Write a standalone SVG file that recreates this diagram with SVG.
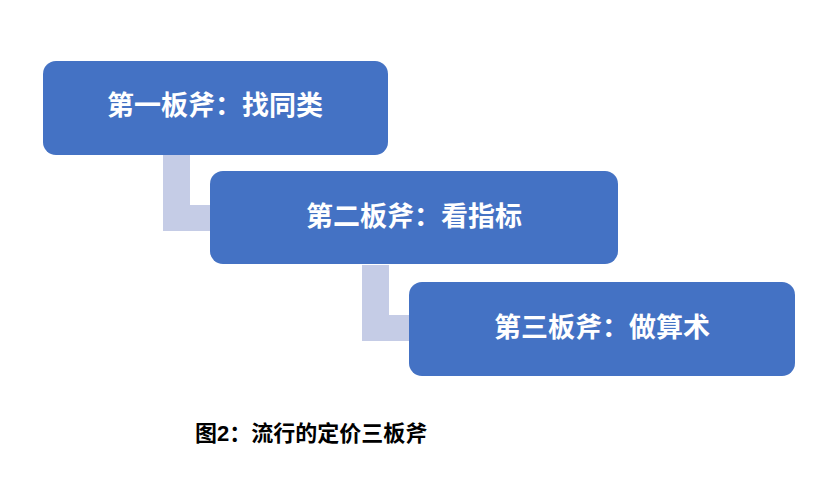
<svg xmlns="http://www.w3.org/2000/svg" width="837" height="478" viewBox="0 0 837 478">
<style>
.box{fill:#4472C4}
.lbl{fill:#fff;font-family:"Liberation Sans","Noto Sans CJK SC",sans-serif;font-weight:bold;font-size:27px;text-anchor:middle;dominant-baseline:central}
.con{fill:#C5CCE6}
.cap{fill:#000;font-family:"Liberation Sans","Noto Sans CJK SC",sans-serif;font-weight:bold;font-size:22px}
</style>
<rect width="837" height="478" fill="#fff"/>
<g id="connectors">
<path class="con" d="M163 155H190V205H210V231H163Z"/>
<path class="con" d="M362 265H389V315H409V341H362Z"/>
</g>
<g id="n1"><rect class="box" x="43" y="61" width="345" height="94" rx="13"/><text class="lbl" x="215" y="106">第一板斧：找同类</text></g>
<g id="n2"><rect class="box" x="210" y="171" width="408" height="93" rx="13"/><text class="lbl" x="414" y="217">第二板斧：看指标</text></g>
<g id="n3"><rect class="box" x="409" y="282" width="386" height="94" rx="13"/><text class="lbl" x="602" y="328">第三板斧：做算术</text></g>
<text class="cap" x="195" y="441">图2：流行的定价三板斧</text>
</svg>
